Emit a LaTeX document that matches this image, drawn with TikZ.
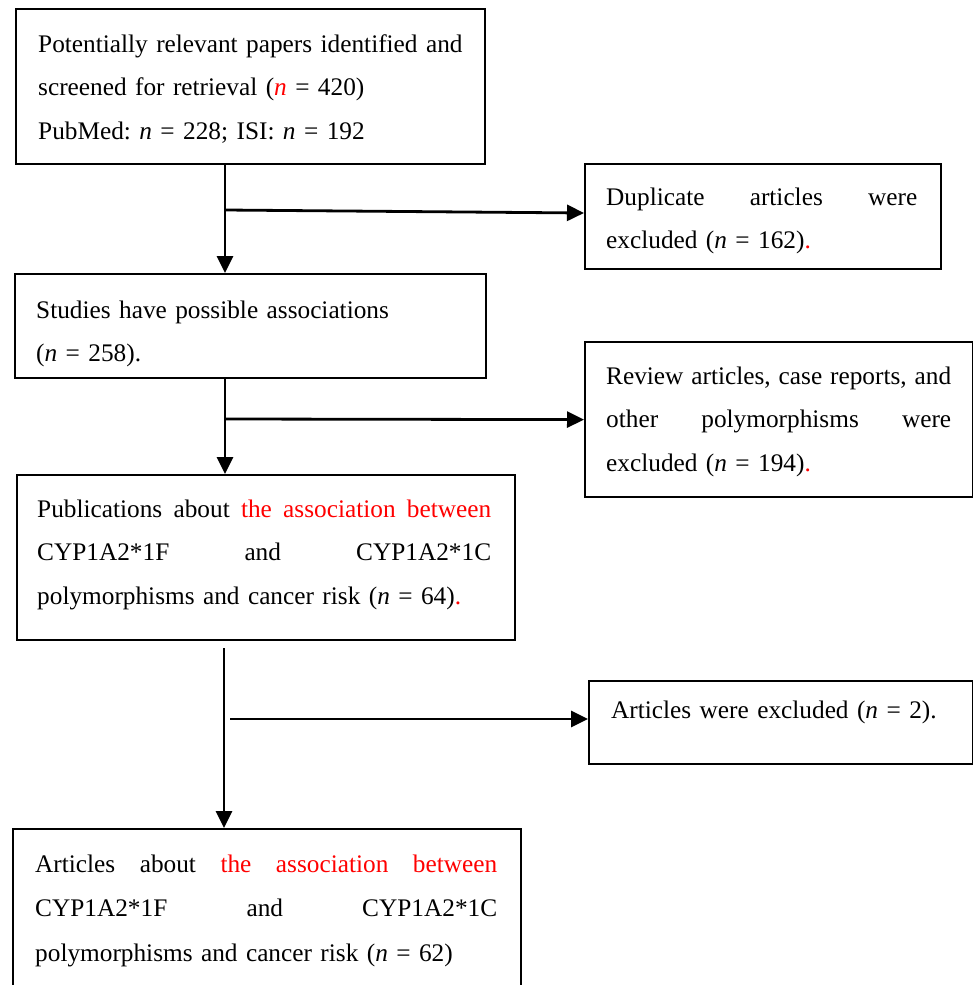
\documentclass[tikz,border=0pt]{standalone}
\usepackage{fontspec}
\setmainfont{Liberation Serif}
\usetikzlibrary{arrows.meta,calc}
\frenchspacing
\newcommand\jline[1]{\leavevmode\hbox to \linewidth{#1}}
\newcommand\nn{\textit{n}}
\begin{document}
\begin{tikzpicture}[x=1pt,y=-1pt,
  frame/.style={draw=black, line width=2.2pt, inner sep=0pt, anchor=north west},
  txt/.style={anchor=base west, inner sep=0pt, align=left, font=\fontsize{25.3}{43.5}\selectfont},
  conn/.style={draw=black, line width=2.8pt, -{Triangle[length=17pt,width=16pt]}}]
\clip (0,0) rectangle (973,985);
\fill[white] (0,0) rectangle (973,985);
% boxes
\node[frame, minimum width=469pt, minimum height=155pt] (b1) at (15,8) {};
\node[frame, minimum width=356pt, minimum height=105pt] (b3) at (584,163) {};
\node[frame, minimum width=471pt, minimum height=104pt] (b2) at (14,273) {};
\node[frame, minimum width=388pt, minimum height=155pt] (b4) at (584,341) {};
\node[frame, minimum width=498pt, minimum height=165pt] (b5) at (16,474) {};
\node[frame, minimum width=384pt, minimum height=83pt] (b6) at (588,680) {};
\node[frame, minimum width=508pt, minimum height=200pt] (b7) at (12,828) {};
% texts
\node[txt, text width=440pt] (t1) at (38,52) {Potentially relevant papers identified and\\
screened for retrieval ({\color{red}\nn} = 420)\\
PubMed: \nn{} = 228; ISI: \nn{} = 192};
\node[txt, text width=311pt] (t3) at (606,205) {\jline{Duplicate\hfill articles\hfill were}\\
excluded (\nn{} = 162){\color{red}.}};
\node[txt, text width=440pt] (t2) at (36,318) {Studies have possible associations\\
(\nn{} = 258).};
\node[txt, text width=345pt] (t4) at (606,384) {\jline{Review\hfill articles,\hfill case\hfill reports,\hfill and}\\
\jline{other\hfill polymorphisms\hfill were}\\
excluded (\nn{} = 194){\color{red}.}};
\node[txt, text width=454pt] (t5) at (37,517) {\jline{Publications\hfill about\hfill {\color{red}the\hfill association\hfill between}}\\
\jline{CYP1A2*1F\hfill and\hfill CYP1A2*1C}\\
polymorphisms and cancer risk (\nn{} = 64){\color{red}.}};
\node[txt, text width=340pt] (t6) at (611,718) {Articles were excluded (\nn{} = 2).};
\node[txt, text width=462pt, font=\fontsize{25.3}{44.5}\selectfont] (t7) at (35,872) {\jline{Articles\hfill about\hfill {\color{red}the\hfill association\hfill between}}\\
\jline{CYP1A2*1F\hfill and\hfill CYP1A2*1C}\\
polymorphisms and cancer risk (\nn{} = 62)};
% connectors
\coordinate (j1) at (225,210);
\coordinate (k1) at (b3.west |- 0,213);
\draw[conn] (j1 |- b1.south) -- (j1 |- b2.north);
\draw[conn] (j1) -- (k1);
\coordinate (j2) at (225,419);
\draw[conn] (j2 |- b2.south) -- (j2 |- b5.north);
\draw[conn] (j2) -- (b4.west);
\coordinate (s3) at (224,648);
\draw[conn] (s3) -- (s3 |- b7.north);
\coordinate (j3) at (230,719);
\draw[conn] (j3) -- (b6.west |- j3);
\end{tikzpicture}
\end{document}
